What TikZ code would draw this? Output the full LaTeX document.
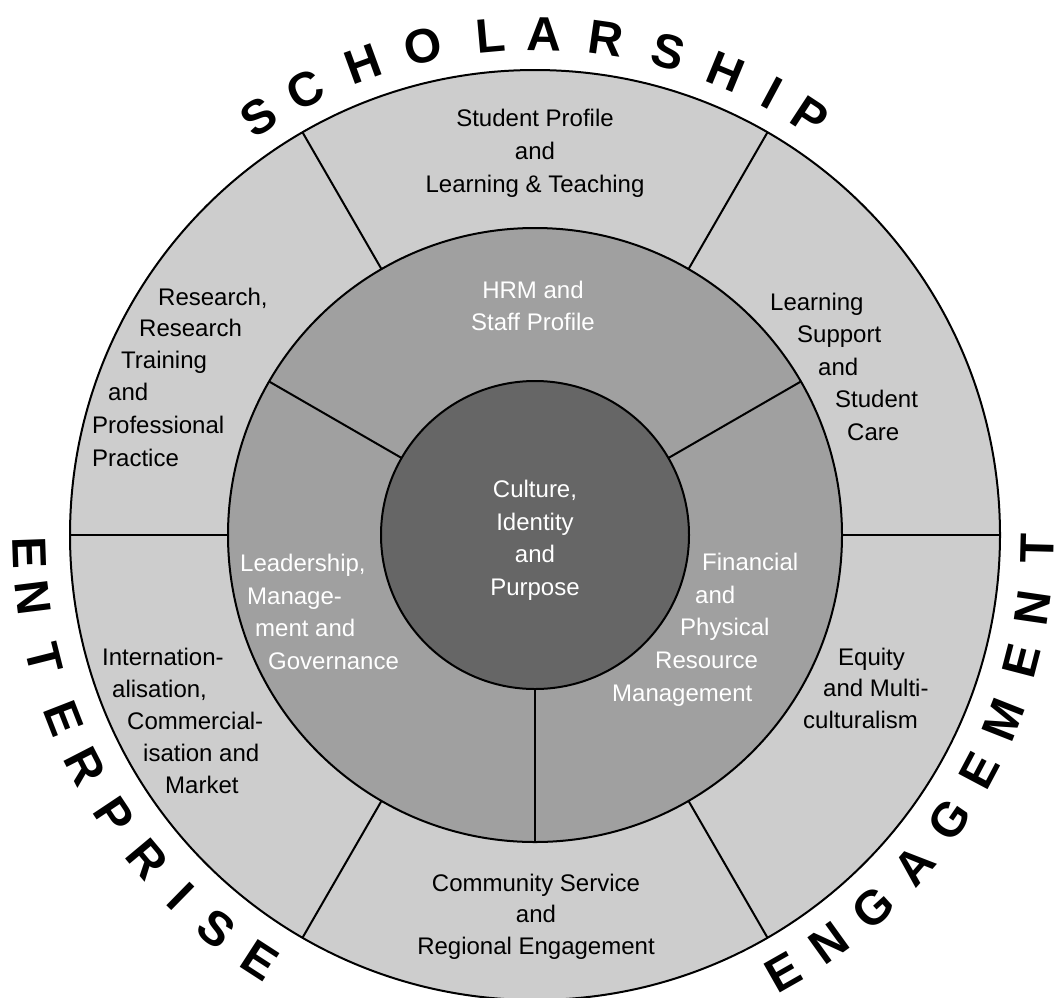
\documentclass[tikz,border=0pt]{standalone}
\usepackage{fontspec}
\setmainfont{Liberation Sans}
\usetikzlibrary{calc}
\definecolor{ringout}{HTML}{CDCDCD}
\definecolor{ringmid}{HTML}{A0A0A0}
\definecolor{ringin}{HTML}{666666}
\begin{document}
\begin{tikzpicture}[x=1pt,y=-1pt,
  ring/.style={circle, draw=black, line width=2pt, inner sep=0pt, outer sep=0pt},
  divider/.style={draw=black, line width=2pt},
  ol/.style={inner sep=0pt, text height=17pt, text depth=0pt, font=\fontsize{24}{30}\selectfont, text=black},
  il/.style={ol, text=white},
  arcl/.style={inner sep=0pt, font=\fontsize{48}{48}\selectfont\bfseries, text=black}]
\useasboundingbox (0,0) rectangle (1055,997);
\begin{scope}
\clip (0,0) rectangle (1055,997);
\node[ring, fill=ringout, minimum size=930pt] (outer) at (535,535) {};
\node[ring, fill=ringmid, minimum size=614pt] (middle) at (535,535) {};
\node[ring, fill=ringin, minimum size=308pt] (inner) at (535,535) {};
\foreach \a in {0,60,...,300} \draw[divider] (middle.\a) -- (outer.\a);
\foreach \a in {30,150,270} \draw[divider] (inner.\a) -- (middle.\a);
\end{scope}

% outer ring labels
\node[ol] (sp1) at (535,118) {Student Profile};
\node[ol] (sp2) at (535,151) {and};
\node[ol] (sp3) at (535,184) {Learning \& Teaching};

\node[ol, anchor=west] (rs1) at (158,297) {Research,};
\node[ol, anchor=west] (rs2) at (139,328) {Research};
\node[ol, anchor=west] (rs3) at (121,360) {Training};
\node[ol, anchor=west] (rs4) at (108,392) {and};
\node[ol, anchor=west] (rs5) at (92,425) {Professional};
\node[ol, anchor=west] (rs6) at (92,458) {Practice};

\node[ol, anchor=west] (ls1) at (770,302) {Learning};
\node[ol, anchor=west] (ls2) at (797,334) {Support};
\node[ol, anchor=west] (ls3) at (818,367) {and};
\node[ol, anchor=west] (ls4) at (835,399) {Student};
\node[ol, anchor=west] (ls5) at (847,432) {Care};

\node[ol, anchor=west] (in1) at (102,657) {Internation-};
\node[ol, anchor=west] (in2) at (112,689) {alisation,};
\node[ol, anchor=west] (in3) at (127,721) {Commercial-};
\node[ol, anchor=west] (in4) at (143,753) {isation and};
\node[ol, anchor=west] (in5) at (165,785) {Market};

\node[ol] (cs1) at (536,883) {Community Service};
\node[ol] (cs2) at (536,914) {and};
\node[ol] (cs3) at (536,946) {Regional Engagement};

\node[ol, anchor=west] (eq1) at (838,657) {Equity};
\node[ol, anchor=west] (eq2) at (823,688) {and Multi-};
\node[ol, anchor=west] (eq3) at (803,720) {culturalism};

% middle ring labels
\node[il] (hr1) at (533,290) {HRM and};
\node[il] (hr2) at (533,322) {Staff Profile};

\node[il, anchor=west] (ld1) at (240,563) {Leadership,};
\node[il, anchor=west] (ld2) at (247,596) {Manage-};
\node[il, anchor=west] (ld3) at (255,628) {ment and};
\node[il, anchor=west] (ld4) at (268,661) {Governance};

\node[il, anchor=west] (fp1) at (702,562) {Financial};
\node[il, anchor=west] (fp2) at (695,595) {and};
\node[il, anchor=west] (fp3) at (680,627) {Physical};
\node[il, anchor=west] (fp4) at (655,660) {Resource};
\node[il, anchor=west] (fp5) at (612,693) {Management};

% inner circle labels
\node[il] (cu1) at (535,489) {Culture,};
\node[il] (cu2) at (535,522) {Identity};
\node[il] (cu3) at (535,554) {and};
\node[il] (cu4) at (535,587) {Purpose};

% arc words
\foreach \l/\a [count=\i] in {S/123.5, C/117.3, H/110.1, O/102.9, L/95.1, A/88.9, R/81.9, S/74.6, H/67.6, I/61.8, P/56.7}
  \node[arcl, rotate=\a-90] (sch\i) at ($(535,535)+({-\a}:501)$) {\l};
\foreach \l/\a [count=\i] in {E/182, N/187.1, T/194.1, E/201.3, R/207.2, P/213.7, R/219.9, I/225.6, S/231, E/237.1}
  \node[arcl, rotate=\a+90] (ent\i) at ($(535,535)+({-\a}:506)$) {\l};
\foreach \l/\a [count=\i] in {E/-60.4, N/-54.3, G/-47.8, A/-41.1, G/-34.5, E/-27.9, M/-21.5, E/-14.5, N/-8.3, T/-1.5}
  \node[arcl, rotate=\a+90] (eng\i) at ($(535,535)+({-\a}:503)$) {\l};
\end{tikzpicture}
\end{document}
